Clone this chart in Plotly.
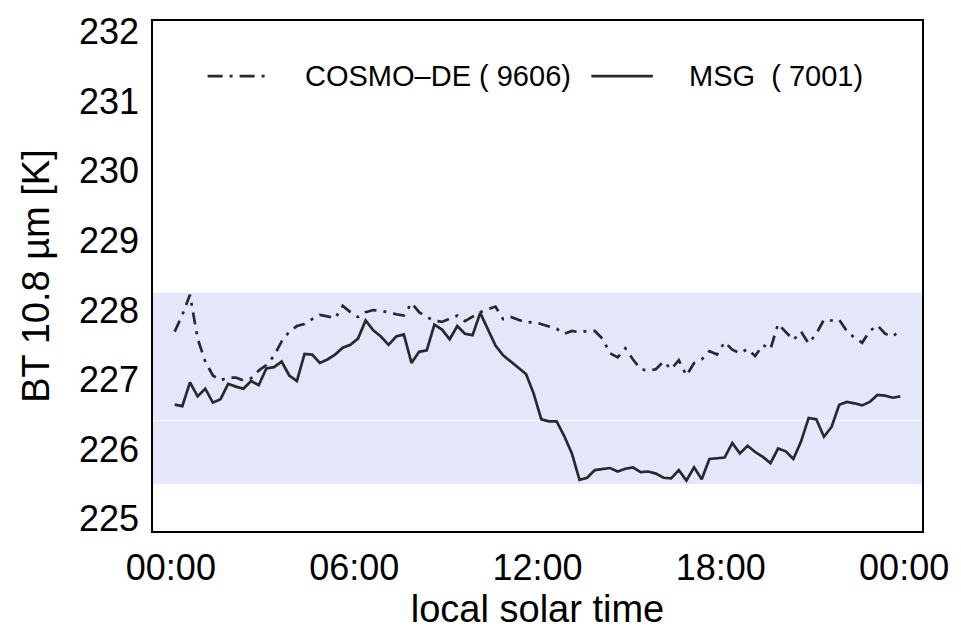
import plotly.graph_objects as go

# 15-minute slots over the day, in hours (slot centres)
slot_hours = [0.125 + 0.25 * k for k in range(96)]

cosmo_de = [
    227.69, 227.93, 228.22, 227.59, 227.26, 227.06, 226.99, 227.03, 227.03, 226.99,
    227.02, 227.13, 227.21, 227.34, 227.55, 227.69, 227.77, 227.80, 227.87, 227.93,
    227.91, 227.88, 228.06, 227.97, 227.90, 227.97, 228.00, 227.99, 227.97, 227.94,
    227.92, 228.10, 227.97, 227.90, 227.85, 227.83, 227.87, 227.92, 227.84, 227.90,
    227.97, 228.01, 228.05, 227.87, 227.90, 227.86, 227.82, 227.83, 227.80, 227.76,
    227.73, 227.66, 227.70, 227.68, 227.70, 227.70, 227.59, 227.38, 227.32, 227.45,
    227.29, 227.15, 227.13, 227.15, 227.26, 227.15, 227.28, 227.06, 227.24, 227.29,
    227.41, 227.36, 227.54, 227.43, 227.38, 227.44, 227.34, 227.50, 227.44, 227.80,
    227.69, 227.57, 227.69, 227.52, 227.66, 227.86, 227.85, 227.86, 227.70, 227.60,
    227.53, 227.70, 227.78, 227.66, 227.62, 227.71,
]

msg = [
    226.64, 226.62, 226.96, 226.76, 226.87, 226.67, 226.72, 226.94, 226.90, 226.87,
    226.98, 226.92, 227.16, 227.18, 227.26, 227.06, 226.98, 227.37, 227.36, 227.24,
    227.29, 227.36, 227.46, 227.50, 227.59, 227.85, 227.71, 227.62, 227.50, 227.62,
    227.65, 227.24, 227.40, 227.42, 227.79, 227.72, 227.58, 227.77, 227.66, 227.64,
    227.96, 227.73, 227.49, 227.35, 227.26, 227.18, 227.08, 226.80, 226.43, 226.40,
    226.40, 226.19, 225.94, 225.56, 225.59, 225.70, 225.72, 225.73, 225.68, 225.72,
    225.74, 225.67, 225.68, 225.65, 225.59, 225.58, 225.70, 225.55, 225.74, 225.57,
    225.86, 225.87, 225.88, 226.09, 225.94, 226.05, 225.96, 225.89, 225.80, 226.01,
    225.97, 225.86, 226.11, 226.45, 226.43, 226.18, 226.32, 226.64, 226.68, 226.66,
    226.63, 226.68, 226.78, 226.77, 226.74, 226.76,
]

band_low, band_high = 225.50, 228.25
band_split = 226.41

tick_hours = [0, 6, 12, 18, 24]
tick_labels = ["00:00", "06:00", "12:00", "18:00", "00:00"]
y_ticks = [225, 226, 227, 228, 229, 230, 231, 232]

series_names = ["COSMO\u2013DE ( 9606)", "MSG\u00a0\u00a0( 7001)"]

LINE_COLOR = "#28282f"
DASHDOT = "12px,7px,3px,7px"
FONT = "Liberation Sans, Arial, Helvetica, sans-serif"

fig = go.Figure()

fig.add_trace(go.Scatter(
    x=slot_hours, y=cosmo_de, mode="lines", name=series_names[0],
    line=dict(color=LINE_COLOR, width=2.7, dash=DASHDOT),
    showlegend=False,
))
fig.add_trace(go.Scatter(
    x=slot_hours, y=msg, mode="lines", name=series_names[1],
    line=dict(color=LINE_COLOR, width=2.7),
    showlegend=False,
))

# shaded range band
fig.add_shape(type="rect", xref="paper", yref="y", x0=0, x1=1,
              y0=band_low, y1=band_high, line=dict(width=0),
              fillcolor="rgb(228,230,249)", layer="below")
fig.add_shape(type="line", xref="paper", yref="y", x0=0, x1=1,
              y0=band_split, y1=band_split,
              line=dict(color="white", width=1), layer="below")

# legend drawn inside the plot area
leg_y = 0.892
fig.add_shape(type="line", xref="paper", yref="paper", x0=0.071, x1=0.151,
              y0=leg_y, y1=leg_y,
              line=dict(color=LINE_COLOR, width=2.7, dash="15px,7px,3px,7px"))
fig.add_annotation(xref="paper", yref="paper", x=0.195, y=leg_y,
                   text=series_names[0], showarrow=False,
                   xanchor="left", yanchor="middle",
                   font=dict(family=FONT, size=29, color="black"))
fig.add_shape(type="line", xref="paper", yref="paper", x0=0.570, x1=0.650,
              y0=leg_y, y1=leg_y, line=dict(color=LINE_COLOR, width=2.7))
fig.add_annotation(xref="paper", yref="paper", x=0.695, y=leg_y,
                   text=series_names[1], showarrow=False,
                   xanchor="left", yanchor="middle",
                   font=dict(family=FONT, size=29, color="black"))

fig.update_layout(
    width=961, height=631,
    margin=dict(l=153, r=33, t=12, b=95),
    plot_bgcolor="white", paper_bgcolor="white",
    font=dict(family=FONT, size=36, color="black"),
    xaxis=dict(
        range=[-0.585, 24.585], tickvals=tick_hours, ticktext=tick_labels,
        showgrid=False, zeroline=False, showline=True, mirror=True,
        linecolor="black", linewidth=1.5, ticks="",
        title=dict(text="local solar time", font=dict(size=38), standoff=4),
        tickfont=dict(size=36), ticklabelstandoff=4,
    ),
    yaxis=dict(
        range=[224.825, 232.154], tickvals=y_ticks,
        showgrid=False, zeroline=False, showline=True, mirror=True,
        linecolor="black", linewidth=1.5, ticks="",
        title=dict(text="BT 10.8 \u00b5m [K]", font=dict(size=38), standoff=18),
        tickfont=dict(size=36), ticklabelstandoff=5,
    ),
)

fig.write_html("out.html")
